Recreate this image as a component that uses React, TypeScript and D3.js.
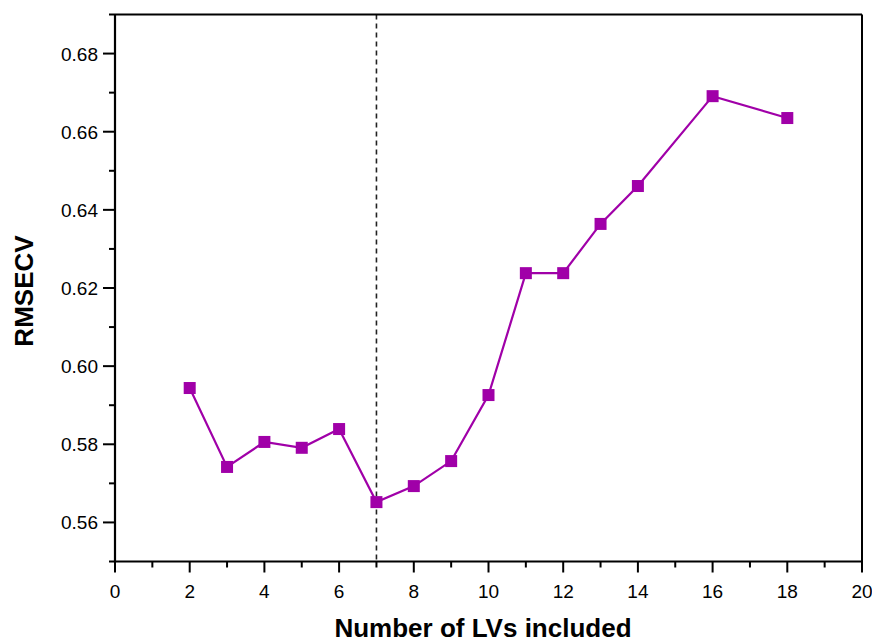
import React from "react";
import * as d3 from "d3";

const lvs = [2, 3, 4, 5, 6, 7, 8, 9, 10, 11, 12, 13, 14, 16, 18];
const rmsecv = [0.5944, 0.5742, 0.5806, 0.5791, 0.5839, 0.5652, 0.5693, 0.5757, 0.5926, 0.6238, 0.6238, 0.6364, 0.6461, 0.6691, 0.6635];
const xMajor = [0, 2, 4, 6, 8, 10, 12, 14, 16, 18, 20];
const xMinor = [1, 3, 5, 7, 9, 11, 13, 15, 17, 19];
const yMajor = [0.56, 0.58, 0.6, 0.62, 0.64, 0.66, 0.68];
const yMinor = [0.55, 0.57, 0.59, 0.61, 0.63, 0.65, 0.67, 0.69];
const optimalLV = 7;

const W = 872, H = 643;
const L = 115, R = 862, T = 14.5, B = 561.5;
const color = "#a000a8";

export default function App() {
  const x = d3.scaleLinear().domain([0, 20]).range([L, R]);
  const y = d3.scaleLinear().domain([0.55, 0.69]).range([B, T]);
  const line = d3.line<number>().x((_, i) => x(lvs[i])).y((d) => y(d));
  const font = "'Liberation Sans', Arial, sans-serif";
  return (
    <svg width={W} height={H} style={{ position: "absolute", left: 0, top: 0, background: "#fff" }} fontFamily={font}>
      <rect x={0} y={0} width={W} height={H} fill="#fff" />
      <line x1={x(optimalLV)} x2={x(optimalLV)} y1={T} y2={B} stroke="#222" strokeWidth={1.6} strokeDasharray="5,4" />
      <path d={line(rmsecv) || ""} fill="none" stroke={color} strokeWidth={2.2} />
      {rmsecv.map((v, i) => (
        <rect key={i} x={x(lvs[i]) - 6} y={y(v) - 6} width={12} height={12} fill={color} />
      ))}
      {/* frame */}
      <line x1={L} x2={R} y1={T} y2={T} stroke="#000" strokeWidth={2} />
      <line x1={R} x2={R} y1={T} y2={B} stroke="#000" strokeWidth={2} />
      <line x1={L} x2={L} y1={T} y2={B + 1} stroke="#000" strokeWidth={2.2} />
      <line x1={L - 1} x2={R + 1} y1={B} y2={B} stroke="#000" strokeWidth={2.2} />
      {/* x ticks */}
      {xMajor.map((t) => (
        <g key={"xm" + t}>
          <line x1={x(t)} x2={x(t)} y1={B} y2={B + 11} stroke="#000" strokeWidth={2} />
          <text x={x(t)} y={B + 36} textAnchor="middle" fontSize={19} fill="#000">{t}</text>
        </g>
      ))}
      {xMinor.map((t) => (
        <line key={"xn" + t} x1={x(t)} x2={x(t)} y1={B} y2={B + 6} stroke="#000" strokeWidth={2} />
      ))}
      {/* y ticks */}
      {yMajor.map((t) => (
        <g key={"ym" + t}>
          <line x1={L - 12} x2={L} y1={y(t)} y2={y(t)} stroke="#000" strokeWidth={2} />
          <text x={L - 17} y={y(t) + 7} textAnchor="end" fontSize={19} fill="#000">{t.toFixed(2)}</text>
        </g>
      ))}
      {yMinor.map((t) => (
        <line key={"yn" + t} x1={L - 6} x2={L} y1={y(t)} y2={y(t)} stroke="#000" strokeWidth={2} />
      ))}
      <text x={483} y={637} textAnchor="middle" fontSize={26} fontWeight="bold" fill="#000">Number of LVs included</text>
      <text transform={`translate(33,291) rotate(-90)`} textAnchor="middle" fontSize={26} fontWeight="bold" fill="#000">RMSECV</text>
    </svg>
  );
}
